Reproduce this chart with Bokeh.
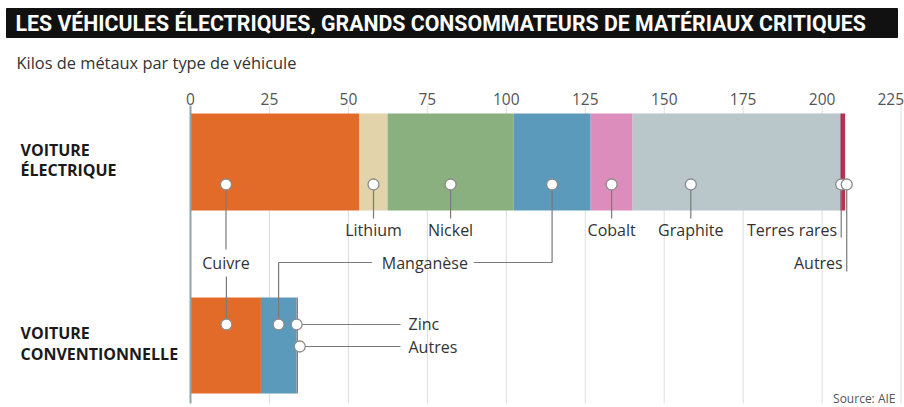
from bokeh.plotting import figure
from bokeh.models import Range1d
from bokeh.core.properties import value
from bokeh.embed import file_html
from bokeh.resources import INLINE

# ---------------- data ----------------
title = "LES VÉHICULES ÉLECTRIQUES, GRANDS CONSOMMATEURS DE MATÉRIAUX CRITIQUES"
subtitle = "Kilos de métaux par type de véhicule"
source_note = "Source: AIE"

vehicles = [["VOITURE", "ÉLECTRIQUE"], ["VOITURE", "CONVENTIONNELLE"]]

elec_metals = ["Cuivre", "Lithium", "Nickel", "Manganèse", "Cobalt", "Graphite", "Terres rares", "Autres"]
elec_kg = [53.5, 8.9, 39.9, 24.4, 13.3, 65.8, 0.5, 1.0]

conv_metals = ["Cuivre", "Manganèse", "Zinc", "Autres"]
conv_kg = [22.3, 11.2, 0.2, 0.3]

ticks = [0, 25, 50, 75, 100, 125, 150, 175, 200, 225]
tick_labels = ["0", "25", "50", "75", "100", "125", "150", "175", "200", "225"]

# ---------------- styles / layout ----------------
colors = {
    "Cuivre": "#e36b2a", "Lithium": "#e3d3aa", "Nickel": "#8bb07f",
    "Manganèse": "#5b9aba", "Cobalt": "#dc8dbb", "Graphite": "#b9c6ca",
    "Terres rares": "#93325a", "Autres": "#b5354c", "Zinc": "#7a8f9a",
}
conv_autres_color = "#d2483c"
# where along each segment the annotation dot sits (fraction of the segment)
elec_dot_frac = [0.21, 0.5, 0.5, 0.5, 0.5, 0.28, 0.5, 1.5]
conv_dot_frac = [0.51, 0.5, 0.5, 3.0]

W, H = 904, 407
PX0 = 190.0       # canvas pixel of x = 0
SCALE = 3.158     # pixels per kg


def sx(px):
    return (px - PX0) / SCALE


LABEL_FONT = value("Open Sans")
TITLE_FONT = value("Roboto")
INK = "#333333"
LEAD = "#7a7a7a"

p = figure(width=W, height=H, output_backend="svg", toolbar_location=None,
           x_range=Range1d(sx(0), sx(W)), y_range=Range1d(H, 0),
           x_axis_location=None, y_axis_location=None, min_border=0,
           outline_line_color=None, background_fill_color="white",
           border_fill_color="white")
for r in p.center:
    r.visible = False

# title bar
p.quad(left=[sx(6)], right=[sx(897)], top=[8], bottom=[37], color="#111111")
p.text(x=[sx(15)], y=[23], text=[title], text_color="white", text_font=TITLE_FONT,
       text_font_size="21.3px", text_font_style="bold", text_baseline="middle", text_align="left")
p.text(x=[sx(16)], y=[62], text=[subtitle], text_color=INK, text_font=LABEL_FONT,
       text_font_size="16.4px", text_baseline="middle", text_align="left")

# grid + tick labels
GRID_TOP, GRID_BOT = 105, 403
p.segment(x0=ticks[1:], x1=ticks[1:], y0=[GRID_TOP] * (len(ticks) - 1), y1=[GRID_BOT] * (len(ticks) - 1),
          line_color="#dedede", line_width=1)
tick_align = ["center"] * (len(ticks) - 1) + ["right"]
tick_x = ticks[:-1] + [ticks[-1] + 3 / SCALE]
p.text(x=tick_x, y=[98] * len(ticks), text=tick_labels, text_color="#555555",
       text_font=LABEL_FONT, text_font_size="15.5px", text_align=tick_align, text_baseline="middle")

# bars
ROW_Y = [161.5, 345.0]
ROW_H = [97, 96]


def stack(vals):
    lefts, rights, acc = [], [], 0.0
    for v in vals:
        lefts.append(acc)
        acc += v
        rights.append(acc)
    return lefts, rights


el_l, el_r = stack(elec_kg)
cv_l, cv_r = stack(conv_kg)
p.hbar(y=[ROW_Y[0]] * len(elec_kg), left=el_l, right=el_r, height=ROW_H[0],
       fill_color=[colors[m] for m in elec_metals], line_color=None)
conv_colors = [colors[m] for m in conv_metals[:-1]] + [conv_autres_color]
p.hbar(y=[ROW_Y[1]] * len(conv_kg), left=cv_l, right=cv_r, height=ROW_H[1],
       fill_color=conv_colors, line_color=None)

# zero axis line
p.segment(x0=[0], x1=[0], y0=[GRID_TOP], y1=[GRID_BOT], line_color="#8fa4ae", line_width=2)

# anchors
ea = {m: l + f * (r - l) for m, l, r, f in zip(elec_metals, el_l, el_r, elec_dot_frac)}
ca = {m: l + f * (r - l) for m, l, r, f in zip(conv_metals, cv_l, cv_r, conv_dot_frac)}
DOT_E = 184
DOT_C = {"Cuivre": 324, "Manganèse": 324, "Zinc": 324, "Autres": 346}
LBL1, LBL2 = 229, 262

xs, ys = [], []
for m in ["Lithium", "Nickel", "Cobalt", "Graphite"]:
    xs.append([ea[m], ea[m]]); ys.append([DOT_E, 218])
xs.append([ea["Terres rares"], ea["Terres rares"]]); ys.append([DOT_E, 237])
xs.append([ea["Autres"], ea["Autres"]]); ys.append([DOT_E, 271])
# cuivre
xs.append([ea["Cuivre"], ea["Cuivre"]]); ys.append([DOT_E, 249])
xs.append([ca["Cuivre"], ca["Cuivre"]]); ys.append([276, DOT_C["Cuivre"]])
# manganese
mn_c = (ea["Manganèse"] + ca["Manganèse"]) / 2 + 3.0
half = 43 / SCALE
xs.append([ea["Manganèse"], ea["Manganèse"], mn_c + half + 6 / SCALE]); ys.append([DOT_E, LBL2, LBL2])
xs.append([mn_c - half - 10 / SCALE, ca["Manganèse"], ca["Manganèse"]]); ys.append([LBL2, LBL2, DOT_C["Manganèse"]])
# zinc / autres (conventional)
side_x = sx(400)
xs.append([ca["Zinc"], side_x]); ys.append([DOT_C["Zinc"], DOT_C["Zinc"]])
xs.append([ca["Autres"], side_x]); ys.append([DOT_C["Autres"], DOT_C["Autres"]])
p.multi_line(xs=xs, ys=ys, line_color=LEAD, line_width=1.2)

# dots
dot_x = [ea[m] for m in elec_metals] + [ca[m] for m in conv_metals]
dot_y = [DOT_E] * len(elec_metals) + [DOT_C[m] for m in conv_metals]
p.scatter(x=dot_x, y=dot_y, size=11, fill_color="white", line_color="#8a8a8a", line_width=1.3)

# metal labels
lab_txt, lab_x, lab_y, lab_al = [], [], [], []
for m in ["Lithium", "Nickel", "Cobalt", "Graphite"]:
    lab_txt.append(m); lab_x.append(ea[m]); lab_y.append(LBL1); lab_al.append("center")
lab_txt.append("Terres rares"); lab_x.append(ea["Terres rares"] - 4 / SCALE); lab_y.append(LBL1); lab_al.append("right")
lab_txt.append("Autres"); lab_x.append(ea["Autres"] - 4 / SCALE); lab_y.append(LBL2); lab_al.append("right")
lab_txt.append("Cuivre"); lab_x.append(ea["Cuivre"]); lab_y.append(LBL2); lab_al.append("center")
lab_txt.append("Manganèse"); lab_x.append(mn_c); lab_y.append(LBL2); lab_al.append("center")
lab_txt.append("Zinc"); lab_x.append(side_x + 8 / SCALE); lab_y.append(DOT_C["Zinc"] - 1); lab_al.append("left")
lab_txt.append("Autres"); lab_x.append(side_x + 8 / SCALE); lab_y.append(DOT_C["Autres"]); lab_al.append("left")
p.text(x=lab_x, y=lab_y, text=lab_txt, text_align=lab_al, text_baseline="middle",
       text_color=INK, text_font=LABEL_FONT, text_font_size="16px")

# row labels
rx, ry, rt = [], [], []
for cy, lines in zip(ROW_Y, vehicles):
    for i, line in enumerate(lines):
        rx.append(sx(20)); ry.append(cy - 12.5 + 20.5 * i); rt.append(line)
p.text(x=rx, y=ry, text=rt, text_align="left", text_baseline="middle", text_color="#1a1a1a",
       text_font=LABEL_FONT, text_font_size="16px", text_font_style="bold")

# source
p.text(x=[sx(895)], y=[398], text=[source_note], text_align="right", text_baseline="middle",
       text_color="#555555", text_font=LABEL_FONT, text_font_size="12px")

open("out.html", "w").write(file_html(p, INLINE))
